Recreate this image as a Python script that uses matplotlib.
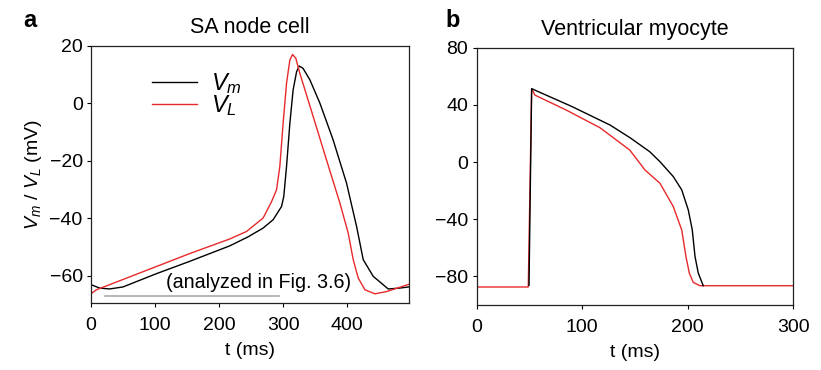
import matplotlib
matplotlib.use("Agg")
import matplotlib.pyplot as plt

plt.rcParams['font.family'] = ['Liberation Sans', 'DejaVu Sans']
plt.rcParams['mathtext.fontset'] = 'custom'
plt.rcParams['mathtext.rm'] = 'Liberation Sans'
plt.rcParams['mathtext.it'] = 'Liberation Sans:italic'

# panel a: SA node cell
sa_t_vm = [0, 13.6, 29.2, 50, 102, 154, 216.7, 245, 268.8, 284.4, 297.5, 301,
           305.3, 310.5, 315.6, 321, 325, 331, 341.7, 357.3, 378, 399, 414.7, 425,
           440.6, 464, 482, 496]
sa_vm = [-63.1, -64.3, -64.6, -63.9, -59.3, -55.0, -49.6, -46.5, -43.4, -40.5,
         -35.9, -32.4, -22.0, -6.9, 4.7, 11.0, 13.0, 12.2, 8.2, 0.1, -12.7, -27.8,
         -42.9, -54.4, -60.2, -64.6, -64.3, -63.9]
sa_t_vl = [0, 8.4, 29.2, 102, 154, 216.7, 242.8, 268.8, 281.9, 289.7, 294.8, 300, 305.3,
           310.5, 314.7, 319.8, 326, 346.9, 367.7, 388.6, 401.6, 409.4, 417.2, 427.7,
           443.3, 461.6, 496]
sa_vl = [-66.3, -64.9, -63.1, -56.8, -52.3, -47.2, -44.6, -39.9, -34.2, -30.1, -22.0,
         -6.9, 7.0, 15.1, 17.0, 15.7, 10.5, -4.6, -19.7, -34.7, -45.2, -54.4, -60.8,
         -64.9, -66.3, -65.5, -63.0]

# panel b: ventricular myocyte
vm_t_vm = [49.6, 52.1, 90, 126.3, 145.3, 164, 173.7, 186.3, 194.3, 200.5, 204.3, 206.9,
           210, 214.7]
vm_vm = [-86.2, 51.4, 39.0, 26.0, 17.1, 7.3, 0.3, -10.1, -19.4, -33.4, -47.4, -66.0,
         -77.7, -86.5]
vm_t_vl = [0, 48.9, 52.1, 55.2, 85, 116.8, 145, 159.5, 173.7, 186.3, 194.3, 198.3,
           201.5, 205.3, 211.6, 300]
vm_vl = [-87.4, -87.4, 51.4, 46.9, 36.4, 24.1, 8.5, -5.5, -14.8, -31.1, -47.4, -66.0,
         -77.7, -84.2, -86.5, -86.5]

red = '#e8292b'

fig = plt.figure(figsize=(8.21, 3.70), dpi=100)
ax1 = fig.add_axes([0.1108, 0.181, 0.387, 0.695])
ax2 = fig.add_axes([0.5806, 0.1757, 0.3856, 0.695])

ax1.plot(sa_t_vm, sa_vm, color='black', lw=1.0, label='$V_m$')
ax1.plot(sa_t_vl, sa_vl, color=red, lw=1.0, label='$V_L$')
ax1.plot([21.4, 293.7], [-67.2, -67.2], color='#aaaaaa', lw=1.2)
ax1.text(262, -62.3, '(analyzed in Fig. 3.6)', ha='center', va='center', fontsize=14.2)
ax1.set_xlim(0, 496)
ax1.set_ylim(-69.5, 20)
ax1.set_xticks([0, 100, 200, 300, 400])
ax1.set_yticks([-60, -40, -20, 0, 20])
ax1.set_xlabel('t (ms)', fontsize=14, labelpad=6)
ax1.set_ylabel('$V_m$ / $V_L$ (mV)', fontsize=14, labelpad=4)
ax1.set_title('SA node cell', fontsize=15.5, pad=9)
leg = ax1.legend(loc='upper left', bbox_to_anchor=(0.125, 0.985), frameon=False,
                 fontsize=17, handlelength=1.9, handletextpad=0.6, labelspacing=-0.1)

ax2.plot(vm_t_vl, vm_vl, color=red, lw=1.0)
ax2.plot(vm_t_vm, vm_vm, color='black', lw=1.0)
ax2.set_xlim(0, 300)
ax2.set_ylim(-100, 80)
ax2.set_xticks([0, 100, 200, 300])
ax2.set_yticks([-80, -40, 0, 40, 80])
ax2.set_xlabel('t (ms)', fontsize=14, labelpad=6)
ax2.set_title('Ventricular myocyte', fontsize=15.5, pad=9)

for ax in (ax1, ax2):
    ax.tick_params(direction='out', length=3, width=0.8, labelsize=14)
    ax.tick_params(axis='x', pad=7)
    ax.tick_params(axis='y', pad=3)
    for s in ax.spines.values():
        s.set_linewidth(0.9)
        s.set_color('#222222')

fig.text(0.028, 0.975, 'a', fontsize=17, fontweight='bold', va='top')
fig.text(0.543, 0.975, 'b', fontsize=17, fontweight='bold', va='top')

fig.savefig('out.png', dpi=100)
